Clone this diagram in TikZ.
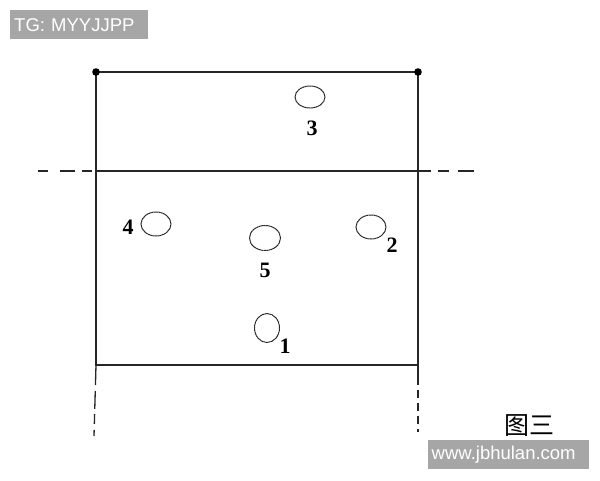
\documentclass[tikz,border=0pt]{standalone}
\usepackage{fontspec}
\usetikzlibrary{shapes.geometric}
\setmainfont{Liberation Serif}
\newfontfamily\wmfont{Liberation Sans}
\newfontfamily\cjk{Noto Sans CJK SC}
\definecolor{wmgray}{HTML}{A6A6A6}
\begin{document}
\begin{tikzpicture}[x=1pt,y=-1pt,
  line/.style={line width=1.3pt,black!85},
  hole/.style={draw,line width=1pt,ellipse,black!85,dash pattern=on 2pt off 0.4pt},
  lab/.style={font=\fontsize{22}{22}\selectfont\bfseries,inner sep=0pt},
  wm/.style={fill=wmgray,text=white,font=\wmfont\fontsize{18.5}{18.5}\selectfont,inner sep=0pt,anchor=north west}]
\useasboundingbox (0,0) rectangle (600,480);
\fill[white] (0,0) rectangle (600,480);
% watermarks
\node[wm,minimum width=138pt,minimum height=29pt,text width=130pt] (tg) at (10,10) {TG: MYYJJPP};
\node[wm,minimum width=161pt,minimum height=29pt,text width=154pt] (web) at (428,440) {www.jbhulan.com};
% frame
\coordinate (tl) at (96,72);
\coordinate (tr) at (418,72);
\coordinate (ml) at (96,171);
\coordinate (mr) at (418,171);
\coordinate (bl) at (96,365);
\coordinate (br) at (418,365);
\coordinate (el) at (38,171);
\coordinate (er) at (476,171);
\coordinate (dl) at (94,436);
\coordinate (dr) at (418,432);
\draw[line] (tl) -- (tr);
\draw[line] (tl) -- (bl) -- (br) -- (tr);
\draw[line] (ml) -- (mr);
\draw[line,dash pattern=on 10pt off 12pt on 15pt off 7pt] (el) -- (ml);
\draw[line,dash pattern=on 13pt off 7pt on 11pt off 9pt on 16pt off 4pt] (mr) -- (er);
\draw[line,dash pattern=on 20pt off 6pt on 18pt off 5pt on 10pt off 6pt] (bl) -- (dl);
\draw[line,dash pattern=on 20pt off 5pt on 8pt off 5pt on 8pt off 5pt on 8pt off 5pt] (br) -- (dr);
\fill (tl) circle (3.8pt);
\fill (tr) circle (3.8pt);
% holes
\node[hole,minimum width=30pt,minimum height=22pt,inner sep=0pt] (h3) at (310,97) {};
\node[hole,minimum width=30pt,minimum height=24pt,inner sep=0pt] (h4) at (156,224) {};
\node[hole,minimum width=31pt,minimum height=25pt,inner sep=0pt] (h5) at (265,238) {};
\node[hole,minimum width=30pt,minimum height=24pt,inner sep=0pt] (h2) at (371,227) {};
\node[hole,minimum width=25pt,minimum height=29pt,inner sep=0pt] (h1) at (267,328) {};
\node[lab] (l3) at (312,128) {3};
\node[lab] (l4) at (128,227) {4};
\node[lab] (l5) at (265,270) {5};
\node[lab] (l2) at (392,245) {2};
\node[lab] (l1) at (285,346) {1};
% caption
\node[font=\cjk\fontsize{25}{25}\selectfont,inner sep=0pt] (cap) at (529,426) {图三};
\end{tikzpicture}
\end{document}
